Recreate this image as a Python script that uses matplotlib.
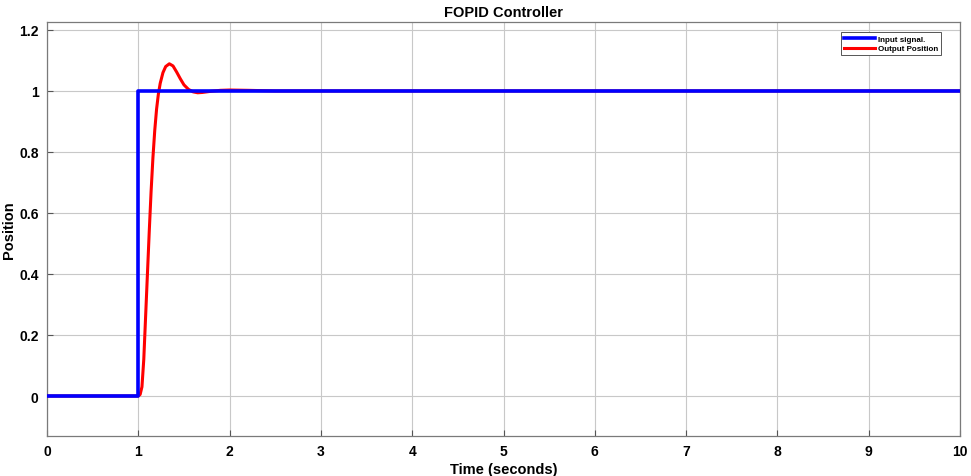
import matplotlib
matplotlib.use("Agg")
import matplotlib.pyplot as plt

# Input step signal
t_in = [0.0, 1.0, 1.0, 10.0]
y_in = [0.0, 0.0, 1.0, 1.0]

# Output position
t_out = [0.0, 1.00, 1.02, 1.04, 1.06, 1.08, 1.10, 1.12, 1.14, 1.16, 1.18, 1.20,
         1.22, 1.24, 1.27, 1.30, 1.34, 1.38, 1.42, 1.46, 1.50, 1.55, 1.60,
         1.65, 1.70, 1.80, 1.90, 2.00, 2.20, 2.50, 10.0]
y_out = [0.0, 0.0, 0.005, 0.03, 0.12, 0.26, 0.40, 0.54, 0.67, 0.78, 0.87, 0.94,
         0.99, 1.025, 1.06, 1.08, 1.089, 1.082, 1.062, 1.04, 1.02, 1.005, 0.997,
         0.994, 0.995, 0.999, 1.002, 1.003, 1.002, 1.0, 1.0]

x_ticks = list(range(0, 11))
y_ticks = [0, 0.2, 0.4, 0.6, 0.8, 1, 1.2]
y_tick_labels = ["0", "0.2", "0.4", "0.6", "0.8", "1", "1.2"]

plt.rcParams['font.family'] = ['Liberation Sans', 'DejaVu Sans']

fig = plt.figure(figsize=(9.71, 4.77), dpi=100)
ax = fig.add_axes([0.0484, 0.0839, 0.9403, 0.8679])

l_out, = ax.plot(t_out, y_out, color='#ff0000', lw=2.2, label='Output Position', zorder=3)
l_in, = ax.plot(t_in, y_in, color='#0000ff', lw=2.6, label='Input signal.', zorder=4)

ax.set_xlim(0, 10)
ax.set_ylim(-0.131, 1.226)
ax.set_xticks(x_ticks)
ax.set_xticklabels([str(v) for v in x_ticks], fontweight='bold', fontsize=10)
ax.set_yticks(y_ticks)
ax.set_yticklabels(y_tick_labels, fontweight='bold', fontsize=10)
ax.tick_params(direction='in', length=4, color='#555555', width=0.8, pad=6)
ax.grid(True, color='#c8c8c8', lw=0.8)
ax.set_axisbelow(True)
for s in ax.spines.values():
    s.set_color('#7a7a7a')
    s.set_linewidth(0.9)

ax.set_title('FOPID Controller', fontweight='bold', fontsize=10.5, pad=4)
ax.set_xlabel('Time (seconds)', fontweight='bold', fontsize=10.5, labelpad=3)
ax.set_ylabel('Position', fontweight='bold', fontsize=10.5, labelpad=2)

leg = ax.legend(handles=[l_in, l_out], loc='upper right', prop={'weight': 'bold', 'size': 5.8},
                bbox_to_anchor=(0.9835, 0.985), fancybox=False, framealpha=1,
                edgecolor='#555555', handlelength=3.8, borderpad=0.35, labelspacing=0.25,
                handletextpad=0.4)
leg.get_frame().set_linewidth(0.7)

fig.savefig('out.png', dpi=100)
